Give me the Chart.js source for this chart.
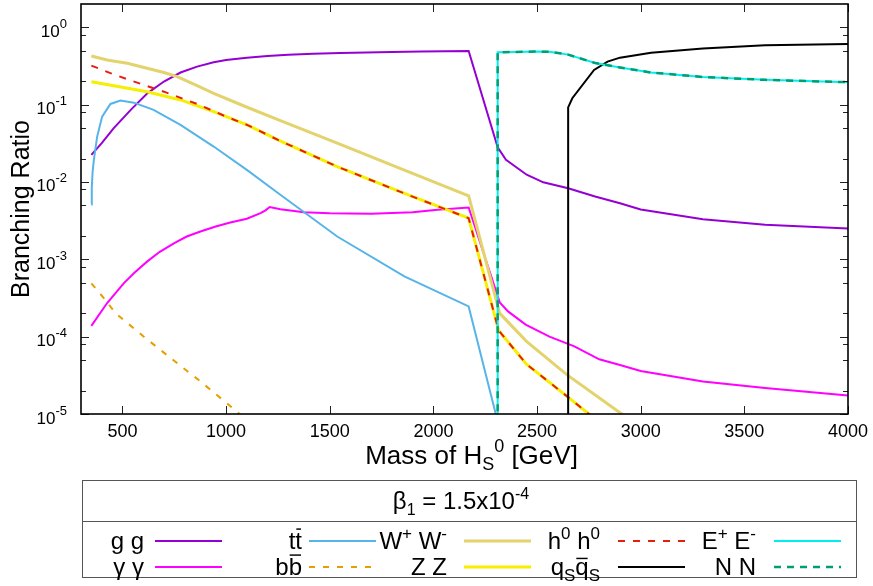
<!DOCTYPE html>
<html>
<head>
<meta charset="utf-8">
<script src="https://cdn.jsdelivr.net/npm/chart.js@4.4.0/dist/chart.umd.min.js"></script>
<style>
  html, body { margin: 0; padding: 0; background: #ffffff; }
  canvas { display: block; }
</style>
</head>
<body>
<canvas id="br" width="873" height="586"></canvas>
<script>
// Branching ratios of the singlet scalar H_S^0 versus its mass (GeV)

const massGG = [350, 400, 458, 540, 620, 700, 780, 860, 940, 1000, 1100, 1200, 1300, 1420, 1550, 1800, 1940, 2170, 2310, 2350, 2450, 2530, 2650, 2780, 2900, 3000, 3300, 3600, 4000];
const brGG   = [0.0224, 0.0318, 0.0496, 0.0855, 0.140, 0.199, 0.26, 0.31, 0.353, 0.378, 0.405, 0.425, 0.44, 0.455, 0.465, 0.48, 0.485, 0.494, 0.028, 0.0193, 0.0124, 0.0099, 0.0083, 0.0065, 0.0053, 0.0044, 0.0033, 0.0028, 0.0025];

const massAA = [350, 426, 507, 560, 620, 680, 750, 810, 876, 950, 1020, 1100, 1166, 1190, 1210, 1262, 1375, 1500, 1700, 1900, 2020, 2170, 2320, 2360, 2445, 2560, 2680, 2800, 2900, 3000, 3300, 3600, 4000];
const brAA   = [1.38e-4, 2.72e-4, 4.93e-4, 6.8e-4, 9.4e-4, 1.25e-3, 1.62e-3, 1.97e-3, 2.29e-3, 2.65e-3, 2.99e-3, 3.35e-3, 3.96e-3, 4.3e-3, 4.75e-3, 4.45e-3, 4.07e-3, 3.93e-3, 3.87e-3, 4.05e-3, 4.36e-3, 4.68e-3, 2.77e-4, 2.12e-4, 1.43e-4, 1.0e-4, 7.5e-5, 5.1e-5, 4.3e-5, 3.6e-5, 2.64e-5, 2.17e-5, 1.74e-5];

const massTT = [350, 352, 356, 362, 378, 402, 442, 490, 555, 650, 780, 940, 1100, 1260, 1536, 1860, 2170, 2310];
const brTT   = [0.0051, 0.0085, 0.0135, 0.0193, 0.0386, 0.070, 0.102, 0.1128, 0.106, 0.0855, 0.0547, 0.0287, 0.01435, 0.0069, 0.00197, 6.0e-4, 2.46e-4, 8e-6];

const massBB = [350, 410, 466, 603, 732, 876, 1021, 1100];
const brBB   = [4.9e-4, 3.15e-4, 2.02e-4, 1.0e-4, 5.3e-5, 2.64e-5, 1.26e-5, 8.3e-6];

const massWW = [350, 426, 523, 619, 700, 764, 852, 940, 1101, 1262, 1536, 1857, 2170, 2320, 2449, 2645, 2902, 2960];
const brWW   = [0.426, 0.378, 0.343, 0.295, 0.26, 0.230, 0.18, 0.140, 0.0925, 0.0622, 0.0317, 0.01435, 0.00662, 2.0e-4, 8.7e-5, 3.2e-5, 1.03e-5, 8e-6];

const massZZ = [350, 458, 619, 780, 940, 1101, 1250, 1536, 1857, 2170, 2315, 2449, 2645, 2750, 2800];
const brZZ   = [0.198, 0.175, 0.147, 0.115, 0.0813, 0.0547, 0.035, 0.0158, 0.00716, 0.0034, 1.2e-4, 4.4e-5, 1.69e-5, 1.0e-5, 8e-6];

const massHH = [350, 442, 531, 700, 860, 1000, 1101, 1250, 1536, 1857, 2170, 2315, 2449, 2645, 2750, 2800];
const brHH   = [0.32, 0.255, 0.209, 0.147, 0.102, 0.070, 0.0547, 0.035, 0.0158, 0.00716, 0.0034, 1.2e-4, 4.4e-5, 1.69e-5, 1.0e-5, 8e-6];

const massQQ = [2650, 2650, 2670, 2775, 2840, 2900, 3050, 3300, 3600, 4000];
const brQQ   = [5e-6, 0.092, 0.121, 0.281, 0.36, 0.405, 0.47, 0.53, 0.585, 0.61];

const massEE = [2310, 2310, 2400, 2500, 2560, 2650, 2780, 2900, 3050, 3300, 3600, 4000];
const brEE   = [5e-6, 0.475, 0.48, 0.485, 0.483, 0.443, 0.345, 0.302, 0.26, 0.228, 0.209, 0.195];

const massNN = [2310, 2310, 2400, 2500, 2560, 2650, 2780, 2900, 3050, 3300, 3600, 4000];
const brNN   = [5e-6, 0.475, 0.48, 0.485, 0.483, 0.443, 0.345, 0.302, 0.26, 0.228, 0.209, 0.195];

// axis ticks
const xTickValues = [500, 1000, 1500, 2000, 2500, 3000, 3500, 4000];
const xTickLabels = ['500', '1000', '1500', '2000', '2500', '3000', '3500', '4000'];
const yDecadeExponents = [-5, -4, -3, -2, -1, 0];
const yMinorFactors = [2, 5, 8];

const FONT = "'Liberation Sans', Arial, Helvetica, sans-serif";

function zip(xs, ys) { return xs.map((x, i) => ({ x: x, y: ys[i] })); }

// channels in drawing order (later ones are painted on top)
const channels = [
  { key: 'gg', m: massGG, v: brGG, color: '#9400d3', width: 2, dash: [] },
  { key: 'aa', m: massAA, v: brAA, color: '#ff00ff', width: 2, dash: [] },
  { key: 'tt', m: massTT, v: brTT, color: '#56b4e9', width: 2, dash: [] },
  { key: 'bb', m: massBB, v: brBB, color: '#e69f00', width: 2, dash: [6, 8] },
  { key: 'ww', m: massWW, v: brWW, color: '#e3d36c', width: 3, dash: [] },
  { key: 'zz', m: massZZ, v: brZZ, color: '#f4f000', width: 3, dash: [] },
  { key: 'hh', m: massHH, v: brHH, color: '#e51e10', width: 2, dash: [7, 8] },
  { key: 'qq', m: massQQ, v: brQQ, color: '#000000', width: 2, dash: [] },
  { key: 'ee', m: massEE, v: brEE, color: '#00eeee', width: 2, dash: [] },
  { key: 'nn', m: massNN, v: brNN, color: '#009e73', width: 2.5, dash: [7, 6] }
];

const datasets = channels.map((c, i) => ({
  label: c.key,
  data: zip(c.m, c.v),
  borderColor: c.color,
  borderWidth: c.width,
  borderDash: c.dash,
  pointRadius: 0,
  tension: 0,
  fill: false,
  order: channels.length - i
}));

// legend layout: [text parts, channel index] per cell, rows of five
const legendRows = [
  [
    [[{ t: 'g g' }], 0],
    [[{ t: 't' }, { t: 't', m: 'bar' }], 2],
    [[{ t: 'W' }, { t: '+', m: 'sup' }, { t: ' W' }, { t: '-', m: 'sup' }], 4],
    [[{ t: 'h' }, { t: '0', m: 'sup' }, { t: ' h' }, { t: '0', m: 'sup' }], 6],
    [[{ t: 'E' }, { t: '+', m: 'sup' }, { t: ' E' }, { t: '-', m: 'sup' }], 8]
  ],
  [
    [[{ t: 'γ γ' }], 1],
    [[{ t: 'b' }, { t: 'b', m: 'bar' }], 3],
    [[{ t: 'Z Z' }], 5],
    [[{ t: 'q' }, { t: 'S', m: 'sub' }, { t: 'q', m: 'bar' }, { t: 'S', m: 'sub' }], 7],
    [[{ t: 'N N' }], 9]
  ]
];

// rich text with superscripts, subscripts and overbars
function drawRich(ctx, parts, x, baseline, size, small, align, raise, drop) {
  const widths = parts.map(p => {
    ctx.font = ((p.m === 'sup' || p.m === 'sub') ? small : size) + 'px ' + FONT;
    return ctx.measureText(p.t).width;
  });
  const total = widths.reduce((a, b) => a + b, 0);
  let cx = align === 'right' ? x - total : (align === 'center' ? x - total / 2 : x);
  ctx.textAlign = 'left';
  ctx.textBaseline = 'alphabetic';
  parts.forEach((p, i) => {
    const s = (p.m === 'sup' || p.m === 'sub') ? small : size;
    ctx.font = s + 'px ' + FONT;
    let by = baseline;
    if (p.m === 'sup') by = baseline - raise;
    if (p.m === 'sub') by = baseline + drop;
    ctx.fillText(p.t, cx, by);
    if (p.m === 'bar') {
      const top = p.t === 'q' ? baseline - size * 0.72 : baseline - size * 0.86;
      ctx.fillRect(cx + 1, top, widths[i] - 2, Math.max(1.2, size * 0.06));
    }
    cx += widths[i];
  });
  return total;
}

const decor = {
  id: 'decor',
  afterDatasetsDraw(chart) {
    const ctx = chart.ctx;
    const a = chart.chartArea;
    const xs = chart.scales.x;
    const ys = chart.scales.y;
    ctx.save();

    // inward tick marks on all four sides
    ctx.strokeStyle = '#222';
    ctx.lineWidth = 1;
    ctx.beginPath();
    xTickValues.forEach(v => {
      const px = Math.round(xs.getPixelForValue(v)) + 0.5;
      ctx.moveTo(px, a.bottom); ctx.lineTo(px, a.bottom - 8);
      ctx.moveTo(px, a.top); ctx.lineTo(px, a.top + 8);
    });
    yDecadeExponents.forEach(e => {
      const py = Math.round(ys.getPixelForValue(Math.pow(10, e))) + 0.5;
      ctx.moveTo(a.left, py); ctx.lineTo(a.left + 8, py);
      ctx.moveTo(a.right, py); ctx.lineTo(a.right - 8, py);
      yMinorFactors.forEach(f => {
        const val = f * Math.pow(10, e);
        if (val >= ys.max) return;
        const pm = Math.round(ys.getPixelForValue(val)) + 0.5;
        ctx.moveTo(a.left, pm); ctx.lineTo(a.left + 5, pm);
        ctx.moveTo(a.right, pm); ctx.lineTo(a.right - 5, pm);
      });
    });
    ctx.stroke();

    // plot border
    ctx.strokeStyle = '#000';
    ctx.lineWidth = 1.6;
    ctx.strokeRect(a.left, a.top, a.right - a.left, a.bottom - a.top);

    ctx.fillStyle = '#000';

    // x tick labels
    ctx.font = '18px ' + FONT;
    ctx.textAlign = 'center';
    ctx.textBaseline = 'middle';
    xTickValues.forEach((v, i) => {
      ctx.fillText(xTickLabels[i], xs.getPixelForValue(v), a.bottom + 18);
    });

    // y tick labels 10^n
    yDecadeExponents.forEach(e => {
      const py = ys.getPixelForValue(Math.pow(10, e));
      drawRich(ctx, [{ t: '10' }, { t: String(e), m: 'sup' }], a.left - 14, py + 9.5, 17, 13, 'right', 9, 0);
    });

    // axis titles
    ctx.save();
    ctx.translate(22, (a.top + a.bottom) / 2);
    ctx.rotate(-Math.PI / 2);
    ctx.font = '25px ' + FONT;
    ctx.textAlign = 'center';
    ctx.textBaseline = 'middle';
    ctx.fillText('Branching Ratio', 0, 0);
    ctx.restore();

    drawRich(ctx, [{ t: 'Mass of H' }, { t: 'S', m: 'sub' }, { t: '0', m: 'sup' }, { t: ' [GeV]' }],
      (a.left + a.right) / 2 + 7, 464, 26, 18, 'center', 12, 6);

    // legend box
    const bx = 82, by = 480, bw = 774, bh = 97, div = 521;
    ctx.strokeStyle = '#555';
    ctx.lineWidth = 1;
    ctx.strokeRect(bx + 0.5, by + 0.5, bw, bh);
    ctx.beginPath();
    ctx.moveTo(bx, div + 0.5); ctx.lineTo(bx + bw, div + 0.5);
    ctx.stroke();

    drawRich(ctx, [{ t: 'β' }, { t: '1', m: 'sub' }, { t: ' = 1.5x10' }, { t: '-4', m: 'sup' }],
      bx + bw / 2 - 8, 509, 24, 16, 'center', 10, 6);

    const lineStarts = [155, 309, 464, 618, 774];
    const textRights = [144, 302, 447, 600, 756];
    const lineLen = 67;
    const rowMid = [541, 567];
    legendRows.forEach((row, r) => {
      row.forEach((cell, k) => {
        const c = channels[cell[1]];
        const x0 = lineStarts[k];
        ctx.fillStyle = '#000';
        drawRich(ctx, cell[0], textRights[k], rowMid[r] + 8, 24, 17, 'right', 10, 6);
        ctx.strokeStyle = c.color;
        ctx.lineWidth = c.width;
        ctx.setLineDash(c.dash);
        ctx.beginPath();
        ctx.moveTo(x0, rowMid[r]);
        ctx.lineTo(x0 + lineLen, rowMid[r]);
        ctx.stroke();
        ctx.setLineDash([]);
      });
    });

    ctx.restore();
  }
};

new Chart(document.getElementById('br').getContext('2d'), {
  type: 'line',
  data: { datasets: datasets },
  options: {
    responsive: false,
    animation: false,
    devicePixelRatio: 1,
    layout: { padding: { left: 81, right: 25, top: 4, bottom: 172 } },
    scales: {
      x: { type: 'linear', min: 300, max: 4000, display: false },
      y: { type: 'logarithmic', min: 1e-5, max: 2, display: false }
    },
    plugins: {
      legend: { display: false },
      tooltip: { enabled: false }
    },
    elements: { point: { radius: 0 }, line: { tension: 0 } }
  },
  plugins: [decor]
});
</script>
</body>
</html>
